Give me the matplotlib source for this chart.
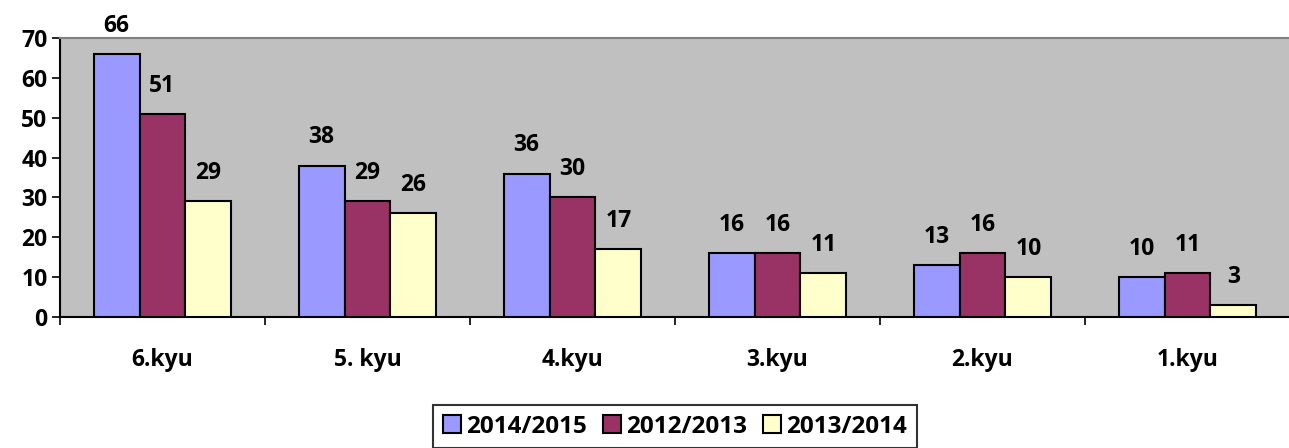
import matplotlib
matplotlib.use("Agg")
import matplotlib.pyplot as plt
import numpy as np

categories = ["6.kyu", "5. kyu", "4.kyu", "3.kyu", "2.kyu", "1.kyu"]
series_names = ["2014/2015", "2012/2013", "2013/2014"]
s2014_2015 = [66, 38, 36, 16, 13, 10]
s2012_2013 = [51, 29, 30, 16, 16, 11]
s2013_2014 = [29, 26, 17, 11, 10, 3]
yticks = [0, 10, 20, 30, 40, 50, 60, 70]

colors = ["#9999FF", "#993366", "#FFFFCC"]

plt.rcParams['font.family'] = ['Open Sans', 'DejaVu Sans']
plt.rcParams['font.weight'] = 'bold'
FS = 16.5
LFS = 17.5

W, H = 1289, 448
fig = plt.figure(figsize=(W / 100, H / 100), dpi=100)
left, right, top, bottom = 60, 1290, 38, 317
ax = fig.add_axes([left / W, 1 - bottom / H, (right - left) / W, (bottom - top) / H])
ax.set_facecolor("#C0C0C0")

x = np.arange(len(categories))
bw = 0.224
all_series = [s2014_2015, s2012_2013, s2013_2014]
for i, (vals, name, c) in enumerate(zip(all_series, series_names, colors)):
    pos = x + (i - 1) * bw
    ax.bar(pos, vals, width=bw, color=c, edgecolor="black", linewidth=1.5, label=name, zorder=3)
    for px, v in zip(pos, vals):
        ax.annotate(str(v), (px, v), xytext=(0, 16), textcoords="offset points",
                    ha="center", va="baseline", fontsize=FS, fontweight="bold", zorder=4,
                    annotation_clip=False)

ax.set_xlim(-0.5, len(categories) - 0.5)
ax.set_ylim(0, 70)
ax.set_yticks(yticks)
ax.set_yticklabels([str(t) for t in yticks], fontsize=FS, fontweight="bold")
ax.tick_params(axis="y", length=6, width=1.2, pad=3, direction="out")

ax.set_xticks(np.arange(-0.5, len(categories), 1.0))
ax.set_xticklabels([])
ax.tick_params(axis="x", which="major", length=6, width=1.2, direction="out")
ax.set_xticks(x, minor=True)
ax.set_xticklabels(categories, minor=True, fontsize=FS, fontweight="bold")
ax.tick_params(axis="x", which="minor", length=0, pad=22)

for s in ["left", "bottom"]:
    ax.spines[s].set_color("black")
    ax.spines[s].set_linewidth(1.5)
ax.spines["top"].set_color("#808080")
ax.spines["top"].set_linewidth(1.5)
ax.spines["right"].set_visible(False)

leg = fig.legend(loc="upper left", bbox_to_anchor=(433 / W, 1 - 405 / H), ncol=3,
                 prop={"size": LFS, "weight": "bold"}, frameon=True, fancybox=False,
                 edgecolor="black", handlelength=0.74, handleheight=0.74,
                 handletextpad=0.22, columnspacing=0.66, borderpad=0.4, borderaxespad=0)
leg.get_frame().set_linewidth(1.5)

fig.savefig("out.png", dpi=100)
